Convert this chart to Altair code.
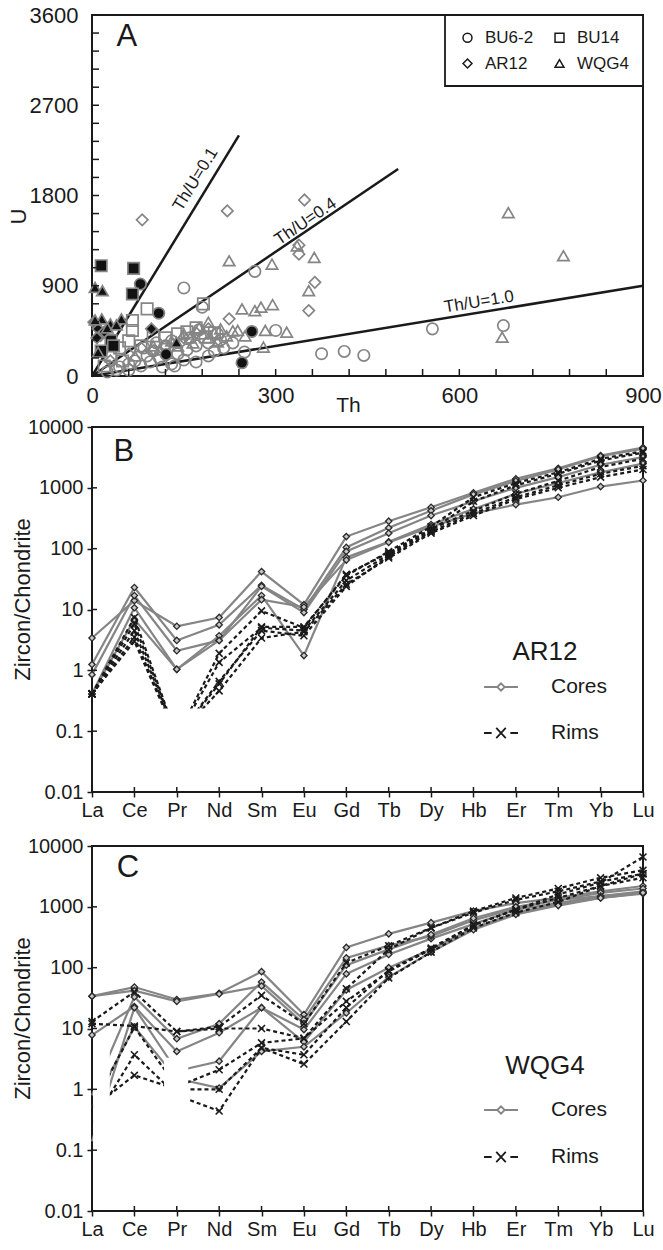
import altair as alt
import pandas as pd

FONT = "Liberation Sans"
GREY = "#858585"
DARK = "#1a1a1a"

# ---------------- Panel A : U vs Th ----------------
samples = ["BU6-2", "BU14", "AR12", "WQG4"]
sample_shapes = ["circle", "square", "diamond", "triangle-up"]

bu62_open_th = [556, 672, 375, 412, 444, 266, 150, 180, 300, 249, 175, 205, 160, 130, 120, 100, 90, 70, 60, 45,
                110, 140, 155, 170, 190, 210, 80, 130, 150, 95, 40, 25, 115, 135, 60, 170, 190, 215, 230, 200, 105, 85]
bu62_open_u = [470, 503, 222, 245, 205, 1043, 878, 686, 454, 238, 460, 420, 380, 350, 300, 250, 200, 150, 120, 90,
               180, 220, 260, 300, 330, 360, 100, 120, 160, 140, 60, 40, 90, 100, 60, 140, 200, 280, 330, 250, 330, 280]
bu14_open_th = [90, 66, 66, 182, 170, 155, 45, 30, 60, 80, 120, 140, 200, 185, 100, 50, 20]
bu14_open_u = [669, 553, 454, 719, 480, 440, 280, 200, 350, 300, 380, 420, 430, 390, 400, 150, 100]
ar12_open_th = [82, 221, 347, 338, 338, 364, 354, 224, 150, 120, 100, 170, 30, 60, 80, 190]
ar12_open_u = [1557, 1646, 1755, 1305, 1215, 934, 652, 570, 380, 300, 250, 430, 150, 220, 280, 470]
wqg4_open_th = [680, 770, 670, 224, 294, 335, 363, 354, 245, 266, 276, 295, 190, 238, 283, 318, 280, 200, 210, 180,
                160, 175, 150, 220, 130, 140, 190, 250, 230, 100, 110, 165, 205, 70]
wqg4_open_u = [1629, 1199, 387, 1149, 1116, 1298, 1182, 851, 669, 652, 686, 712, 536, 454, 454, 437, 288, 430, 470, 420,
               380, 480, 420, 400, 350, 300, 380, 400, 450, 300, 260, 330, 340, 200]

bu62_fill_th = [79, 109, 261, 245, 121]
bu62_fill_u = [917, 626, 444, 132, 215]
bu14_fill_th = [15, 68, 66, 31, 15, 35]
bu14_fill_u = [1100, 1073, 818, 354, 250, 300]
ar12_fill_th = [3, 14, 97, 10, 20, 8]
ar12_fill_u = [537, 404, 470, 470, 440, 380]
wqg4_fill_th = [5, 17, 16, 5, 48, 138, 10, 30, 25, 40]
wqg4_fill_u = [884, 851, 570, 560, 570, 338, 238, 520, 480, 510]

ratio_labels = ["Th/U=0.1", "Th/U=0.4", "Th/U=1.0"]
ratio_end_th = [240, 500, 900]
ratio_end_u = [2400, 2065, 900]
ratio_label_th = [169, 349, 632]
ratio_label_u = [1962, 1540, 738]
ratio_label_angle = [301.4, 325.9, 350.7]

a_x_ticks = list(range(0, 901, 60))
a_y_ticks = list(range(0, 3601, 180))

# ---------------- Panels B, C : REE patterns ----------------
elements = ["La", "Ce", "Pr", "Nd", "Sm", "Eu", "Gd", "Tb", "Dy", "Hb", "Er", "Tm", "Yb", "Lu"]

ar12_cores = {
    "c1": [3.4, 14, 5.3, 7.4, 42, 12, 158, 283, 480, 830, 1410, 2100, 3400, 4600],
    "c2": [1.25, 23, 3.1, 5.6, 25, 10, 105, 220, 420, 780, 1300, 2000, 3300, 4400],
    "c3": [0.85, 17, 2.1, 3.1, 24, 8.9, 90, 180, 350, 600, 1000, 1500, 2400, 3200],
    "c4": [0.41, 10.7, 1.04, 3.7, 17, 1.75, 72, 130, 250, 450, 800, 1200, 1800, 2500],
    "c5": [0.41, 6.9, 1.04, 3.1, 14.5, 11, 65, 127, 230, 380, 530, 700, 1050, 1320],
}
ar12_rims = {
    "r1": [0.41, 7.4, 0.08, 1.9, 9.5, 5.0, 38, 85, 210, 420, 800, 1300, 2200, 3000],
    "r2": [0.41, 5.8, 0.08, 1.35, 5.0, 4.5, 30, 80, 200, 600, 1100, 1700, 2800, 3800],
    "r3": [0.41, 4.5, 0.08, 0.66, 4.5, 3.7, 24, 75, 190, 380, 700, 1100, 1700, 2300],
    "r4": [0.41, 3.5, 0.08, 0.46, 3.4, 4.3, 26, 70, 180, 350, 650, 1000, 1500, 2000],
    "r5": [0.41, 3.0, 0.08, 0.6, 5.2, 5.2, 36, 90, 230, 700, 1200, 1800, 3000, 4000],
}
# element indices whose values are not plotted as markers (below the masks)
ar12_cores_hidden = {}
ar12_rims_hidden = {"r1": [2], "r2": [2], "r3": [2], "r4": [2], "r5": [2]}

wqg4_cores = {
    "c1": [34, 48, 30, 38, 86, 17, 215, 360, 550, 850, 1150, 1400, 1800, 2200],
    "c2": [7.8, 23, 4.2, 8.5, 22, 9.6, 79, 165, 300, 520, 900, 1150, 1500, 1800],
    "c3": [0.8, 33, 6.8, 12, 58, 14, 145, 230, 330, 600, 950, 1300, 1700, 2000],
    "c4": [34, 42, 28, 37, 50, 12, 110, 200, 350, 650, 1000, 1300, 1500, 1700],
    "c5": [0.14, 22, 2.0, 2.9, 22, 6, 43, 100, 200, 450, 800, 1100, 1400, 1650],
    "c6": [0.5, 10.7, 1.5, 1.05, 4.2, 5, 18, 70, 180, 420, 750, 1050, 1400, 1700],
}
wqg4_rims = {
    "r1": [13, 40, 8.9, 10.7, 35, 12, 120, 230, 450, 850, 1400, 2000, 3000, 4000],
    "r2": [12, 11, 8.9, 10, 10, 6.9, 45, 200, 450, 800, 1300, 1800, 2600, 3500],
    "r3": [0.5, 10.5, 1.1, 2.1, 5.8, 6.9, 28, 87, 200, 500, 900, 1600, 2500, 6600],
    "r4": [0.27, 3.7, 0.8, 0.44, 4.8, 2.6, 13, 68, 180, 450, 800, 1200, 2200, 3000],
    "r5": [0.49, 1.7, 1.0, 1.0, 4.8, 3.7, 22, 90, 210, 500, 900, 1400, 2200, 3500],
}
wqg4_cores_hidden = {"c3": [0], "c5": [0, 2], "c6": [0, 2]}
wqg4_rims_hidden = {"r3": [0, 2], "r4": [0, 2], "r5": [0, 2]}

# white masks (element index range, value range) hiding the unplotted segments
ar12_mask_x = [1.3]
ar12_mask_x2 = [2.95]
ar12_mask_y = [0.0118]
ar12_mask_y2 = [0.235]
wqg4_mask_x = [0.025, 1.7]
wqg4_mask_x2 = [0.42, 2.27]
wqg4_mask_y = [0.0118, 0.0118]
wqg4_mask_y2 = [4.6, 3.3]

decades = [0.01, 0.1, 1, 10, 100, 1000, 10000]

# ---------------- sizes ----------------
W = 551
HA = 361
HB = 365
HC = 365


def ree_long(d, hidden):
    rows = []
    for name, vals in d.items():
        for i, v in enumerate(vals):
            rows.append({"series": name, "idx": i, "val": v,
                         "shown": 0 if i in hidden.get(name, []) else 1})
    return pd.DataFrame(rows)


# ---------------- build panel A ----------------
pts = []
for s, th, u in [("BU6-2", bu62_open_th, bu62_open_u), ("BU14", bu14_open_th, bu14_open_u),
                 ("AR12", ar12_open_th, ar12_open_u), ("WQG4", wqg4_open_th, wqg4_open_u)]:
    for a, b in zip(th, u):
        pts.append({"sample": s, "th": a, "u": b, "f": "o", "ord": 0})
for s, th, u in [("BU6-2", bu62_fill_th, bu62_fill_u), ("BU14", bu14_fill_th, bu14_fill_u),
                 ("AR12", ar12_fill_th, ar12_fill_u), ("WQG4", wqg4_fill_th, wqg4_fill_u)]:
    for a, b in zip(th, u):
        pts.append({"sample": s, "th": a, "u": b, "f": "f", "ord": 1})
df_pts = pd.DataFrame(pts)

df_lines = pd.DataFrame({"th": [0] * 3, "u": [0] * 3, "th2": ratio_end_th, "u2": ratio_end_u})
df_lab = pd.DataFrame({"th": ratio_label_th, "u": ratio_label_u, "t": ratio_labels, "ang": ratio_label_angle})

sxA = alt.Scale(domain=[0, 900], nice=False, zero=False)
syA = alt.Scale(domain=[0, 3600], nice=False, zero=False)
axA_x = alt.Axis(values=[0, 300, 600, 900], title="Th", ticks=False, domain=False, labelFlush=False,
                 labelPadding=9, labelFontSize=22, titleFontSize=21, titleFontWeight="normal",
                 titleX=256, titleY=29, titleBaseline="middle", format="d")
axA_y = alt.Axis(values=[0, 900, 1800, 2700, 3600], title="U", ticks=False, domain=False, labelFlush=False,
                 labelPadding=14, labelFontSize=22, titleFontSize=22, titleFontWeight="normal",
                 titleX=-74, titleY=201, titleBaseline="middle", titleAlign="center", format="d")

XA = alt.X("th:Q", scale=sxA, axis=axA_x)
YA = alt.Y("u:Q", scale=syA, axis=axA_y)

ref_lines = alt.Chart(df_lines).mark_rule(color=DARK, strokeWidth=2.5).encode(
    x=XA, y=YA, x2="th2:Q", y2="u2:Q")
ref_text = alt.Chart(df_lab).mark_text(font=FONT, fontSize=17, color=DARK, baseline="middle").encode(
    x=XA, y=YA, text="t:N", angle=alt.Angle("ang:Q", scale=None))
points = alt.Chart(df_pts).mark_point(filled=True, strokeWidth=1.7, size=130, opacity=1).encode(
    x=XA, y=YA,
    shape=alt.Shape("sample:N", scale=alt.Scale(domain=samples, range=sample_shapes),
                    legend=alt.Legend(title=None, orient="top-right", offset=0, columns=2, direction="horizontal",
                                      strokeColor=DARK, fillColor="white", padding=14,
                                      labelFontSize=17, labelFont=FONT, labelColor=DARK,
                                      symbolSize=80, symbolStrokeColor=DARK, symbolFillColor="transparent",
                                      symbolStrokeWidth=1.5, columnPadding=17, rowPadding=8, labelOffset=9)),
    fill=alt.Fill("f:N", scale=alt.Scale(domain=["o", "f"], range=["transparent", "#111111"]), legend=None),
    stroke=alt.value(GREY),
    order=alt.Order("ord:Q"),
)
tick_y_A = alt.Chart(pd.DataFrame({"u": a_y_ticks})).mark_rule(color=DARK, strokeWidth=1.5).encode(
    y=YA, x=alt.value(0), x2=alt.value(7))
tick_x_A = alt.Chart(pd.DataFrame({"th": a_x_ticks})).mark_rule(color=DARK, strokeWidth=1.5).encode(
    x=XA, y=alt.value(HA), y2=alt.value(HA - 7))
panel_a_lab = alt.Chart(pd.DataFrame({"th": [57], "u": [3380], "t": ["A"]})).mark_text(
    font=FONT, fontSize=31, color=DARK).encode(x=XA, y=YA, text="t:N")

chartA = alt.layer(ref_lines, points, ref_text, tick_y_A, tick_x_A, panel_a_lab).properties(width=W, height=HA)

# ---------------- build panels B, C ----------------
XPATH = "M-1,-1L1,1M-1,1L1,-1"
CORE_LEG = "M-1,0H-0.22M0.22,0H1M-0.22,0L0,-0.22L0.22,0L0,0.22Z"
RIM_LEG = "M-1,0H-0.55M0.55,0H1M-0.28,-0.3L0.28,0.3M-0.28,0.3L0.28,-0.3"
label_expr = "[" + ",".join("'%s'" % e for e in elements) + "][datum.value]"


def ree_panel(cores, rims, c_hidden, r_hidden, mx, mx2, my, my2, title, letter, letter_pos, H,
              legend_y, title_pad, row_pad):
    sx = alt.Scale(domain=[0, 13], nice=False, zero=False)
    sy = alt.Scale(type="log", domain=[0.01, 10000], nice=False)
    ax = alt.Axis(values=list(range(14)), labelExpr=label_expr, title=None, domain=False, ticks=True,
                  tickSize=5, tickColor=DARK, tickWidth=1.5, labelPadding=3, labelFontSize=20,
                  labelFlush=False)
    ay = alt.Axis(values=decades, format="~g", title="Zircon/Chondrite", domain=False, ticks=True,
                  tickSize=5, tickColor=DARK, tickWidth=1.5, labelPadding=4, labelFontSize=20,
                  labelFlush=False, titleFontSize=22, titleFontWeight="normal",
                  titleX=-70, titleY=172, titleBaseline="middle", titleAlign="center")
    X = alt.X("idx:Q", scale=sx, axis=ax)
    Y = alt.Y("val:Q", scale=sy, axis=ay)
    dc = ree_long(cores, c_hidden)
    dr = ree_long(rims, r_hidden)
    core_lines = alt.Chart(dc).mark_line(color=GREY, strokeWidth=2.2).encode(x=X, y=Y, detail="series:N")
    rim_lines = alt.Chart(dr).mark_line(color=DARK, strokeWidth=2.2, strokeDash=[4, 3]).encode(
        x=X, y=Y, detail="series:N")
    core_pts = alt.Chart(dc).transform_filter("datum.shown == 1").mark_point(
        shape="diamond", filled=True, fill="#c8c8c8", stroke="#2a2a2a",
        strokeWidth=1.3, size=40, opacity=1).encode(x=X, y=Y)
    rim_pts = alt.Chart(dr).transform_filter("datum.shown == 1").mark_point(
        shape=XPATH, filled=False, stroke=DARK, strokeWidth=1.6, size=48, opacity=1).encode(x=X, y=Y)
    mask = alt.Chart(pd.DataFrame({"idx": mx, "idx2": mx2, "val": my, "val2": my2})).mark_rect(
        color="white").encode(x=X, x2="idx2:Q", y=Y, y2="val2:Q")
    leg_df = pd.DataFrame({"lg": ["Cores", "Rims"], "idx": [0, 0], "val": [1e-6, 1e-6]})
    leg = alt.Legend(title=title, orient="none", legendX=391, legendY=legend_y, titleFontSize=26,
                     titleFont=FONT, titleFontWeight="normal", titleColor=DARK, titleAnchor="middle",
                     titlePadding=title_pad, labelFontSize=21, labelFont=FONT, labelColor=DARK,
                     symbolSize=1150, symbolStrokeWidth=1.8, labelOffset=32, rowPadding=row_pad, padding=0)
    legend_layer = alt.Chart(leg_df).mark_point(clip=True, filled=False, opacity=1, strokeWidth=1.8).encode(
        x=X, y=Y,
        shape=alt.Shape("lg:N", scale=alt.Scale(domain=["Cores", "Rims"], range=[CORE_LEG, RIM_LEG]), legend=leg),
        stroke=alt.Stroke("lg:N", scale=alt.Scale(domain=["Cores", "Rims"], range=[GREY, DARK]), legend=leg),
    )
    tick_y = alt.Chart(pd.DataFrame({"val": decades})).mark_rule(color=DARK, strokeWidth=1.5).encode(
        y=Y, x=alt.value(0), x2=alt.value(5))
    tick_x = alt.Chart(pd.DataFrame({"idx": list(range(14))})).mark_rule(color=DARK, strokeWidth=1.5).encode(
        x=X, y=alt.value(H), y2=alt.value(H - 5))
    lab = alt.Chart(pd.DataFrame({"idx": [letter_pos[0]], "val": [letter_pos[1]], "t": [letter]})).mark_text(
        font=FONT, fontSize=31, color=DARK).encode(x=X, y=Y, text="t:N")
    return alt.layer(core_lines, rim_lines, core_pts, rim_pts, mask, tick_y, tick_x, legend_layer, lab).properties(
        width=W, height=H)


chartB = ree_panel(ar12_cores, ar12_rims, ar12_cores_hidden, ar12_rims_hidden,
                   ar12_mask_x, ar12_mask_x2, ar12_mask_y, ar12_mask_y2,
                   "AR12", "B", (0.75, 3900), HB, 212, 4, 18)
chartC = ree_panel(wqg4_cores, wqg4_rims, wqg4_cores_hidden, wqg4_rims_hidden,
                   wqg4_mask_x, wqg4_mask_x2, wqg4_mask_y, wqg4_mask_y2,
                   "WQG4", "C", (0.85, 4350), HC, 207, 13, 19)

top_pair = alt.vconcat(chartA, chartB, spacing=0).resolve_scale(
    x="independent", y="independent", shape="independent", stroke="independent")
chart = alt.vconcat(top_pair, chartC, spacing=14).resolve_scale(
    x="independent", y="independent", shape="independent", stroke="independent"
).configure_view(stroke=DARK, strokeWidth=2).configure_axis(
    labelFont=FONT, titleFont=FONT, labelColor=DARK, titleColor=DARK, grid=False
).configure_legend(strokeWidth=1.8).properties(
    padding={"left": 6, "top": 3, "right": 0, "bottom": 0}, background="white")

chart.save("out.html", embed_options={"renderer": "svg", "actions": False})
